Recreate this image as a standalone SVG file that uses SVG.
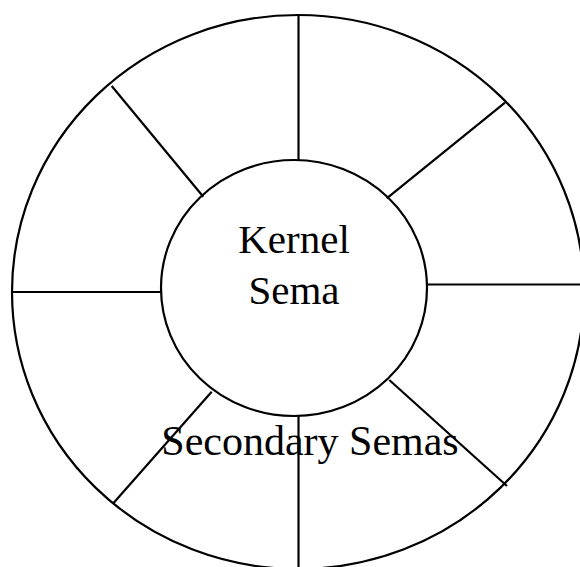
<svg xmlns="http://www.w3.org/2000/svg" width="580" height="567" viewBox="0 0 580 567">
<style>
.s{fill:none;stroke:#000;stroke-width:2.2}
.t{font-family:"Liberation Serif","Times New Roman",serif;font-size:41px;fill:#000;text-anchor:middle}
</style>
<rect width="580" height="567" fill="#fff"/>
<g id="outer"><ellipse class="s" cx="298" cy="292" rx="286" ry="277"/></g>
<g id="connectors">
<line class="s" x1="298.5" y1="15" x2="298.5" y2="160"/>
<line class="s" x1="298.5" y1="416" x2="298.5" y2="567"/>
<line class="s" x1="12" y1="292" x2="161" y2="292"/>
<line class="s" x1="427" y1="284.5" x2="580" y2="284.5"/>
<line class="s" x1="111.7" y1="86" x2="203.3" y2="196.7"/>
<line class="s" x1="505" y1="102.7" x2="386.7" y2="198.3"/>
<line class="s" x1="211.7" y1="391.7" x2="113.3" y2="503.3"/>
<line class="s" x1="389.3" y1="380" x2="507" y2="486"/>
</g>
<g id="kernel"><ellipse class="s" cx="294" cy="288" rx="133" ry="128"/>
<text class="t" x="294" y="253">Kernel</text>
<text class="t" x="294" y="304">Sema</text></g>
<g id="secondary"><text class="t" x="310" y="455" style="font-size:42px">Secondary Semas</text></g>
</svg>
